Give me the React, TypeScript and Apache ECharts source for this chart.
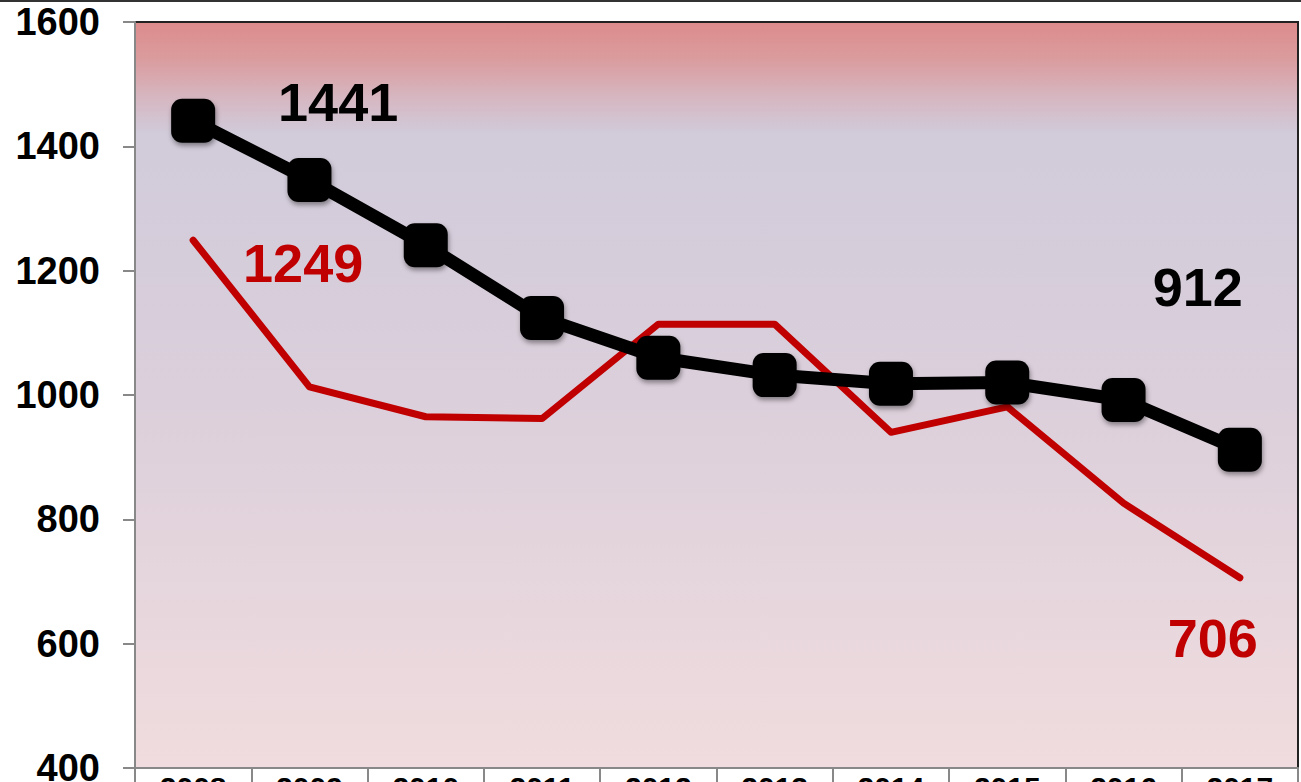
import React, { useEffect, useRef } from "react";
import * as echarts from "echarts";

const years = ["2008", "2009", "2010", "2011", "2012", "2013", "2014", "2015", "2016", "2017"];
const blackValues = [1441, 1346, 1241, 1124, 1060, 1032, 1018, 1020, 992, 912];
const redValues = [1249, 1013, 965, 962, 1114, 1114, 940, 981, 826, 706];
const yTicks = { min: 400, max: 1600, interval: 200 };

const FONT = "'Liberation Sans', Arial, sans-serif";

export default function App() {
  const ref = useRef<HTMLDivElement>(null);
  useEffect(() => {
    if (!ref.current) return;
    const chart = echarts.init(ref.current, undefined, { renderer: "svg" });
    const last = years.length - 1;
    const bigLabel = (color: string, offset: [number, number]) => ({
      show: true,
      position: "inside",
      offset,
      formatter: "{c}",
      color,
      fontFamily: FONT,
      fontWeight: "bold",
      fontSize: 54,
    });
    chart.setOption({
      animation: false,
      backgroundColor: "#ffffff",
      graphic: [
        {
          type: "line",
          shape: { x1: 0, y1: 1, x2: 1301, y2: 1 },
          style: { stroke: "#333", lineWidth: 2 },
        },
      ],
      grid: {
        left: 135,
        right: 3,
        top: 22,
        bottom: 14,
        containLabel: false,
        outerBoundsMode: "none",
        show: true,
        borderColor: "#222",
        borderWidth: 2,
        backgroundColor: new echarts.graphic.LinearGradient(0, 0, 0, 1, [
          { offset: 0, color: "#DD8B8B" },
          { offset: 0.05, color: "#DA9C9E" },
          { offset: 0.1, color: "#D6B6C0" },
          { offset: 0.15, color: "#D1CBDA" },
          { offset: 0.5, color: "#DBCFDB" },
          { offset: 1, color: "#F0DCDE" },
        ]),
      },
      xAxis: {
        type: "category",
        data: years,
        boundaryGap: true,
        axisLine: { show: true, lineStyle: { color: "#888", width: 2 } },
        axisTick: { show: true, alignWithLabel: false, length: 14, lineStyle: { color: "#888", width: 2 } },
        axisLabel: {
          color: "#000",
          fontFamily: FONT,
          fontWeight: "bold",
          fontSize: 30,
          margin: 4,
          verticalAlign: "top",
        },
        splitLine: { show: false },
      },
      yAxis: {
        type: "value",
        min: yTicks.min,
        max: yTicks.max,
        interval: yTicks.interval,
        axisLine: { show: true, lineStyle: { color: "#888", width: 2 } },
        axisTick: { show: true, length: 12, lineStyle: { color: "#888", width: 2 } },
        axisLabel: {
          color: "#000",
          fontFamily: FONT,
          fontWeight: "bold",
          fontSize: 38,
          margin: 35,
          formatter: (v: number) => String(v),
        },
        splitLine: { show: false },
      },
      series: [
        {
          type: "line",
          data: redValues.map((v, i) =>
            i === 0
              ? { value: v, label: bigLabel("#C00000", [110, 23]) }
              : i === last
              ? { value: v, label: bigLabel("#C00000", [-27, 60]) }
              : v
          ),
          showSymbol: true,
          symbol: "circle",
          symbolSize: 0,
          lineStyle: { color: "#C00000", width: 7, cap: "round", join: "round" },
          itemStyle: { color: "#C00000" },
          z: 2,
        },
        {
          type: "line",
          data: blackValues.map((v, i) =>
            i === 0
              ? { value: v, label: bigLabel("#000", [145, -19]) }
              : i === last
              ? { value: v, label: bigLabel("#000", [-42, -163]) }
              : v
          ),
          symbol: "roundRect",
          symbolSize: 44,
          lineStyle: { color: "#000", width: 13 },
          itemStyle: {
            color: "#000",
            shadowBlur: 5,
            shadowColor: "rgba(0,0,0,0.4)",
            shadowOffsetX: 1,
            shadowOffsetY: 3,
          },
          z: 3,
        },
      ],
    });
    return () => chart.dispose();
  }, []);
  return (
    <div
      ref={ref}
      style={{ position: "absolute", left: 0, top: 0, width: 1301, height: 782, overflow: "hidden" }}
    />
  );
}
